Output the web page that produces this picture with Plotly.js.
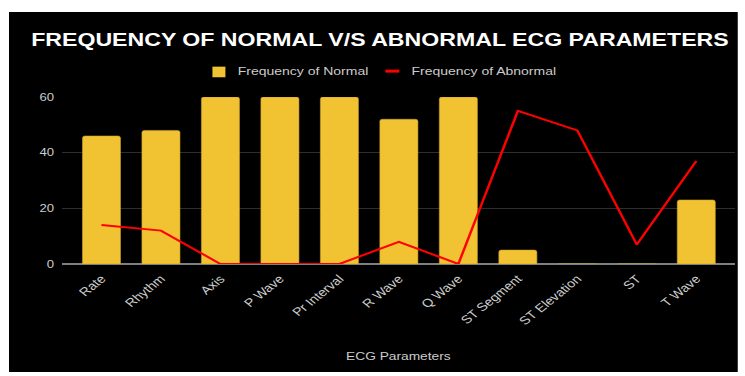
<!DOCTYPE html>
<html><head><meta charset="utf-8">
<script src="https://cdn.plot.ly/plotly-3.0.1.min.js"></script>
<style>
html,body{margin:0;padding:0;background:#fff;width:745px;height:376px;overflow:hidden;}
#chart{position:absolute;left:9px;top:12px;width:583px;height:360px;transform:scaleX(1.25);transform-origin:0 0;}
</style></head>
<body><div id="chart"></div>
<script>
const categories = ["Rate","Rhythm","Axis","P Wave","Pr Interval","R Wave","Q Wave","ST Segment","ST Elevation","ST","T Wave"];
const normalFreq = [46,48,60,60,60,52,60,5,0,0,23];
const abnormalFreq = [14,12,0,0,0,8,0,55,48,7,37];
const yTicks = [0,20,40,60];
const seriesNames = ['Frequency of Normal','Frequency of Abnormal'];
const seriesColors = ['#F1C232','#FF0000'];

const FONT = 'Liberation Sans, Arial, sans-serif';
const data = [
  {type:'bar', x:categories, y:normalFreq, name:seriesNames[0], showlegend:false,
   marker:{color:seriesColors[0], cornerradius:2, line:{color:'#C9A22A', width:0.5}}},
  {type:'scatter', mode:'lines', x:categories, y:abnormalFreq, name:seriesNames[1], showlegend:false,
   line:{color:seriesColors[1], width:2}}
];
const layout = {
  width:583, height:360,
  paper_bgcolor:'#000', plot_bgcolor:'#000',
  margin:{l:41.6, r:2.2, t:85, b:108.3},
  bargap:0.36,
  showlegend:false,
  font:{family:FONT, color:'#cccccc', size:11},
  title:{text:'<b>FREQUENCY OF NORMAL V/S ABNORMAL ECG PARAMETERS</b>', x:0.509, xanchor:'center', y:0.923, yanchor:'middle',
         font:{family:FONT, size:18.5, color:'#ffffff'}},
  xaxis:{range:[-0.672,10.655], tickangle:-45, tickfont:{size:11.5, color:'#cccccc'}, showgrid:false, zeroline:false,
         showline:false, ticks:'', ticklabelstandoff:5,
         title:{text:'ECG Parameters', font:{size:11, color:'#cccccc'}, standoff:26}},
  yaxis:{range:[0,60], tickvals:yTicks, ticktext:yTicks.map(String), gridcolor:'#2e2e2e', gridwidth:1,
         zeroline:true, zerolinecolor:'#808080', zerolinewidth:1.5, tickfont:{size:10.5, color:'#cccccc'},
         ticklabelstandoff:5, showline:false},
  shapes:[
    {type:'rect', xref:'paper', yref:'paper', x0:0.2240, x1:0.2433, y0:1.1182, y1:1.1818,
     fillcolor:seriesColors[0], line:{width:0}},
    {type:'rect', xref:'paper', yref:'paper', x0:0.4807, x1:0.5015, y0:1.146, y1:1.164,
     fillcolor:seriesColors[1], line:{width:0}}
  ],
  annotations:[
    {xref:'paper', yref:'paper', x:0.2582, y:1.156, xanchor:'left', yanchor:'middle', showarrow:false,
     text:seriesNames[0], font:{size:11.2, color:'#cccccc'}},
    {xref:'paper', yref:'paper', x:0.5152, y:1.156, xanchor:'left', yanchor:'middle', showarrow:false,
     text:seriesNames[1], font:{size:11.2, color:'#cccccc'}}
  ]
};
Plotly.newPlot('chart', data, layout, {displayModeBar:false, staticPlot:true});
</script></body></html>
